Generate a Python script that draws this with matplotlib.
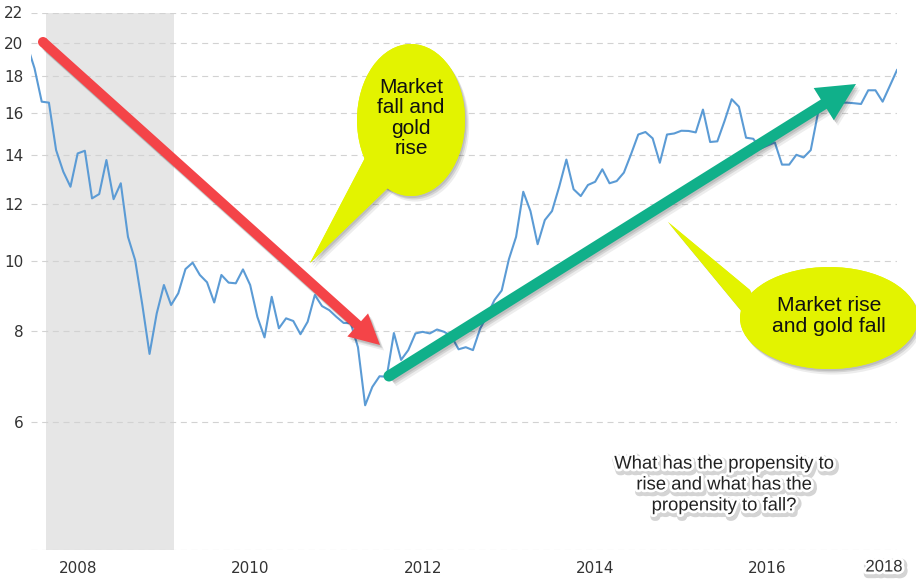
import numpy as np
import matplotlib
matplotlib.use("Agg")
import matplotlib.pyplot as plt
from matplotlib.patches import Ellipse, Polygon, FancyArrowPatch, ArrowStyle, Circle
import matplotlib.patheffects as pe

# ---------------- data (Dow / gold ratio, monthly from Jun 2007) ----------------
start_year = 2007 + 5 / 12
ratio = [
    19.80, 18.43, 16.58, 16.53, 14.22, 13.28, 12.66, 14.07, 14.19, 12.20,
    12.37, 13.78, 12.17, 12.80, 10.80, 10.03, 8.70, 7.45, 8.47, 9.27,
    8.70, 9.03, 9.75, 9.95, 9.57, 9.35, 8.77, 9.57, 9.34, 9.32,
    9.74, 9.27, 8.38, 7.85, 8.93, 8.08, 8.34, 8.27, 7.93, 8.25,
    8.98, 8.67, 8.56, 8.38, 8.22, 8.21, 7.61, 6.33, 6.71, 6.94,
    6.93, 7.96, 7.31, 7.54, 7.95, 7.99, 7.95, 8.05, 7.99, 7.88,
    7.56, 7.61, 7.54, 8.07, 8.43, 8.84, 9.11, 10.06, 10.80, 12.46,
    11.72, 10.55, 11.39, 11.72, 12.66, 13.80, 12.56, 12.29, 12.73, 12.86,
    13.38, 12.80, 12.89, 13.24, 14.04, 14.94, 15.06, 14.76, 13.66, 14.94,
    14.99, 15.12, 15.11, 15.04, 16.17, 14.59, 14.62, 15.59, 16.71, 16.32,
    14.79, 14.74, 14.29, 14.43, 14.57, 13.58, 13.58, 14.01, 13.89, 14.22,
    15.98, 16.62, 16.57, 16.53, 16.53, 16.50, 16.46, 17.19, 17.19, 16.58,
    17.43, 18.33,
]
years = start_year + np.arange(len(ratio)) / 12.0

recession_start, recession_end = 2007.63, 2009.12
x_limits = (2007.459, 2017.50)
y_limits = (4, 22)
yticks = [4, 6, 8, 10, 12, 14, 16, 18, 20, 22]
ytick_labels = ["", "6", "8", "10", "12", "14", "16", "18", "20", "22"]
xticks = [2008, 2010, 2012, 2014, 2016]
xtick_labels = ["2008", "2010", "2012", "2014", "2016"]

bubble1_text = "Market\nfall and\ngold\nrise"
bubble2_text = "Market rise\nand gold fall"
note_text = "What has the propensity to\nrise and what has the\npropensity to fall?"
end_label = "2018"

# ---------------- figure ----------------
W, H = 916, 581
fig = plt.figure(figsize=(W / 100, H / 100), dpi=100)
ax_l, ax_r, ax_t, ax_b = 31, 897, 12.5, 550
ax = fig.add_axes([ax_l / W, (H - ax_b) / H, (ax_r - ax_l) / W, (ax_b - ax_t) / H])

ax.set_yscale("log")
ax.set_xlim(*x_limits)
ax.set_ylim(*y_limits)
ax.axvspan(recession_start, recession_end, color="#e6e6e6", zorder=0, lw=0)
for yv in yticks:
    ax.axhline(yv, color="#d2d2d2", lw=0.8, ls=(0, (5.4, 4.2)), zorder=1)
ax.plot(years, ratio, color="#5b9bd5", lw=1.5, zorder=3)

ax.yaxis.set_major_locator(matplotlib.ticker.FixedLocator(yticks))
ax.yaxis.set_major_formatter(matplotlib.ticker.FixedFormatter(ytick_labels))
ax.yaxis.set_minor_locator(matplotlib.ticker.NullLocator())
ax.set_xticks(xticks)
ax.set_xticklabels(xtick_labels)
ax.tick_params(axis="both", length=0, labelsize=11, colors="#333333")
ax.tick_params(axis="y", pad=5.5)
ax.tick_params(axis="x", pad=8)
for s in ax.spines.values():
    s.set_visible(False)
ax.patch.set_alpha(0)

# ---------------- overlay (pixel coordinates) ----------------
ov = fig.add_axes([0, 0, 1, 1], zorder=10)
ov.set_xlim(0, W)
ov.set_ylim(H, 0)
ov.axis("off")
ov.patch.set_alpha(0)

PX = 72 / 100.0  # points per pixel
shadow = [pe.SimplePatchShadow(offset=(3, -4), shadow_rgbFace="k", alpha=0.07),
          pe.SimplePatchShadow(offset=(2, -2.5), shadow_rgbFace="k", alpha=0.10),
          pe.SimplePatchShadow(offset=(1, -1.5), shadow_rgbFace="k", alpha=0.10),
          pe.Normal()]

yellow = "#e3f300"
# bubble 1
tail1_pts = [(310, 263), (366, 156), (392, 184)]
ell1_c, ell1_w, ell1_h = (411, 120), 108, 152
# bubble 2
tail2_pts = [(668, 222), (750, 290), (772, 348)]
ell2_c, ell2_w, ell2_h = (829, 318), 178, 102

for tp, ec, ew, eh in ((tail1_pts, ell1_c, ell1_w, ell1_h), (tail2_pts, ell2_c, ell2_w, ell2_h)):
    for z, eff in ((2, shadow), (2.5, None)):
        t = Polygon(tp, closed=True, fc=yellow, ec="none", zorder=z)
        e = Ellipse(ec, ew, eh, fc=yellow, ec="none", zorder=z)
        if eff:
            t.set_path_effects(eff)
            e.set_path_effects(eff)
        ov.add_patch(t)
        ov.add_patch(e)

ov.text(411, 118, bubble1_text, ha="center", va="center", fontsize=15,
        family="Liberation Sans", color="#111111", linespacing=1.07, zorder=3)
ov.text(829, 316, bubble2_text, ha="center", va="center", fontsize=15.2,
        family="Liberation Sans", color="#111111", linespacing=1.07, zorder=3)

# arrows
def draw_arrow(p0, p1, color, tail_px, head_w_px, head_l_px):
    style = ArrowStyle.Simple(head_length=head_l_px * PX, head_width=head_w_px * PX,
                              tail_width=tail_px * PX)
    arr = FancyArrowPatch(p0, p1, arrowstyle=style, mutation_scale=1, fc=color, ec="none",
                          shrinkA=0, shrinkB=0, zorder=4)
    arr.set_path_effects(shadow)
    ov.add_patch(arr)
    cap = Circle(p0, tail_px / 2, fc=color, ec="none", zorder=4.1)
    ov.add_patch(cap)

draw_arrow((43, 42), (380, 345), "#f44448", 10, 31, 30)
draw_arrow((389, 376), (856, 84), "#10b08a", 11, 38, 38)

# texts with white halo
halo = [pe.Stroke(linewidth=6, foreground="#555555", alpha=0.25, offset=(1.2, -1.8)),
        pe.Stroke(linewidth=4, foreground="white"), pe.Normal()]
ov.text(724, 485, note_text, ha="center", va="center", fontsize=13.3, family="Liberation Sans",
        color="#222222", linespacing=1.3, zorder=5, path_effects=halo)
ov.text(884, 567, end_label, ha="center", va="center", fontsize=12, family="Liberation Sans",
        color="#333333", zorder=5, path_effects=halo)

fig.savefig("out.png", dpi=100)
